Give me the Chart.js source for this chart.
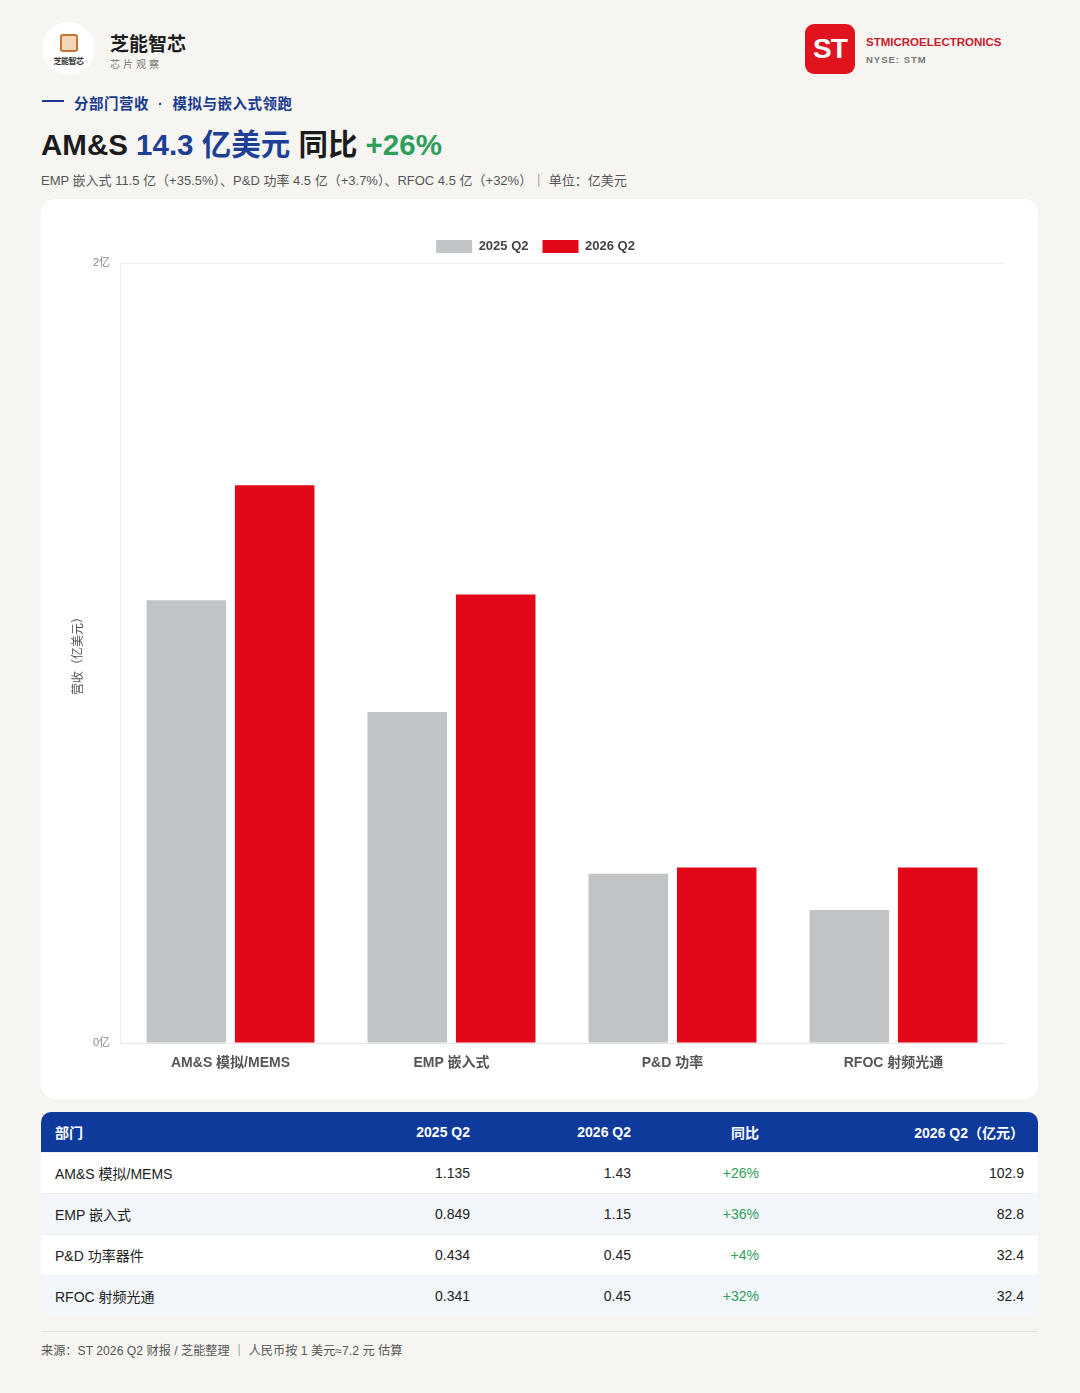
<!DOCTYPE html>
<html lang="zh-CN">
<head>
<meta charset="utf-8">
<title>ST 分部门营收</title>
<script src="https://cdn.jsdelivr.net/npm/chart.js@4.4.1/dist/chart.umd.min.js"></script>
<style>
  html, body { margin: 0; padding: 0; }
  body {
    width: 1080px; height: 1393px; position: relative; overflow: hidden;
    background: #f6f5f2;
    font-family: "Liberation Sans", "Noto Sans CJK SC", sans-serif;
    color: #1b1b1b;
  }
  .abs { position: absolute; }
  .logo {
    left: 42px; top: 22px; width: 53px; height: 53px; border-radius: 50%;
    background: #fff; text-align: center;
  }
  .logo .chip {
    width: 14px; height: 14px; margin: 12px auto 0; border: 2px solid #c8732f;
    border-radius: 3px; background: #f4d7b9;
  }
  .logo .txt { font-size: 8px; font-weight: bold; color: #333; margin-top: 3px; letter-spacing: -0.5px; }
  .brand { left: 110px; top: 29px; font-size: 19px; font-weight: bold; color: #1d1d1d; }
  .brand-sub { left: 110px; top: 56px; font-size: 10px; color: #777; letter-spacing: 3px; }
  .st {
    left: 805px; top: 24px; width: 50px; height: 50px; border-radius: 9px;
    background: #e0131f; color: #fff; font-weight: bold; font-size: 28px;
    line-height: 50px; text-align: center; letter-spacing: -1px;
  }
  .st-name { left: 866px; top: 36px; font-size: 11.5px; font-weight: bold; color: #c8202c; }
  .st-sub { left: 866px; top: 54px; font-size: 9.5px; font-weight: bold; color: #777; letter-spacing: 1px; }
  .kicker-line { left: 42px; top: 100px; width: 22px; height: 2px; background: #1a3a8f; }
  .kicker { left: 74px; top: 92px; font-size: 14.5px; font-weight: bold; color: #1a3a8f; white-space: pre; letter-spacing: 0.5px; }
  .title { left: 41px; top: 121px; font-size: 29.5px; font-weight: bold; color: #1b1b1b; white-space: nowrap; }
  .title .blue { color: #1d3f96; }
  .title .green { color: #2e9e5b; }
  .subtitle { left: 41px; top: 170px; font-size: 13px; color: #555; white-space: nowrap; }
  .card {
    left: 41px; top: 199px; width: 997px; height: 900px; background: #fff; border-radius: 14px;
  }
  .card canvas { position: absolute; left: 0; top: 0; }
  table.data {
    position: absolute; left: 41px; top: 1112px; width: 997px; border-collapse: separate;
    border-spacing: 0; font-size: 14px; background: #fff; border-radius: 10px; overflow: hidden;
  }
  table.data th {
    background: #0d3a9b; color: #fff; font-weight: bold; height: 40px; padding: 0 14px;
  }
  table.data td { height: 40px; padding: 0 14px; color: #222; border-top: 1px solid #eef0f4; }
  table.data tr:nth-child(even) td { background: #f3f6fb; }
  table.data .l { text-align: left; }
  table.data .r { text-align: right; }
  table.data td.g { color: #2e9e5b; }
  .foot-line { left: 41px; top: 1331px; width: 997px; height: 1px; background: #e2e1dd; }
  .foot { left: 41px; top: 1341px; font-size: 12.2px; color: #555; white-space: nowrap; }
</style>
</head>
<body>

<div class="abs logo"><div class="chip"></div><div class="txt">芝能智芯</div></div>
<div class="abs brand">芝能智芯</div>
<div class="abs brand-sub">芯片观察</div>

<div class="abs st">ST</div>
<div class="abs st-name">STMICROELECTRONICS</div>
<div class="abs st-sub">NYSE: STM</div>

<div class="abs kicker-line"></div>
<div class="abs kicker">分部门营收  ·  模拟与嵌入式领跑</div>
<div class="abs title">AM&amp;S <span class="blue">14.3 亿美元</span> 同比 <span class="green">+26%</span></div>
<div class="abs subtitle">EMP 嵌入式 11.5 亿（+35.5%）、P&amp;D 功率 4.5 亿（+3.7%）、RFOC 4.5 亿（+32%）｜ 单位：亿美元</div>

<div class="abs card"><canvas id="chart" width="997" height="900"></canvas></div>

<table class="data">
  <thead>
    <tr>
      <th class="l" style="width:237px">部门</th>
      <th class="r" style="width:150px">2025 Q2</th>
      <th class="r" style="width:133px">2026 Q2</th>
      <th class="r" style="width:100px">同比</th>
      <th class="r">2026 Q2（亿元）</th>
    </tr>
  </thead>
  <tbody id="tbody"></tbody>
</table>

<div class="abs foot-line"></div>
<div class="abs foot">来源：ST 2026 Q2 财报 / 芝能整理 ｜ 人民币按 1 美元≈7.2 元 估算</div>

<script>
// --------------------------
// 数据
// --------------------------
const categories = ['AM&S 模拟/MEMS', 'EMP 嵌入式', 'P&D 功率', 'RFOC 射频光通'];
const tableNames = ['AM&S 模拟/MEMS', 'EMP 嵌入式', 'P&D 功率器件', 'RFOC 射频光通'];
const q2025 = [1.135, 0.849, 0.434, 0.341];
const q2026 = [1.43, 1.15, 0.45, 0.45];
const yoyLabels = ['+26%', '+36%', '+4%', '+32%'];
const rmb2026 = ['102.9', '82.8', '32.4', '32.4'];
const yTicks = [0, 2];

// 表格
const tbody = document.getElementById('tbody');
tableNames.forEach((name, i) => {
  const tr = document.createElement('tr');
  tr.innerHTML =
    `<td class="l">${name}</td>` +
    `<td class="r">${q2025[i]}</td>` +
    `<td class="r">${q2026[i]}</td>` +
    `<td class="r g">${yoyLabels[i]}</td>` +
    `<td class="r">${rmb2026[i]}</td>`;
  tbody.appendChild(tr);
});

// 图表
const font = '"Liberation Sans", "Noto Sans CJK SC", sans-serif';
const ctx = document.getElementById('chart').getContext('2d');
new Chart(ctx, {
  type: 'bar',
  data: {
    labels: categories,
    datasets: [
      { label: '2025 Q2', data: q2025, backgroundColor: '#c0c4c6' },
      { label: '2026 Q2', data: q2026, backgroundColor: '#e3071a' }
    ]
  },
  options: {
    responsive: false,
    animation: false,
    layout: { padding: { top: 27, right: 34, bottom: 0, left: 26 } },
    plugins: {
      legend: {
        position: 'top',
        labels: {
          boxWidth: 36, boxHeight: 13, padding: 14,
          color: '#444', font: { family: font, size: 13, weight: 'bold' }
        }
      },
      tooltip: { enabled: false }
    },
    scales: {
      x: {
        grid: { display: false },
        border: { color: '#e6e6e6' },
        ticks: { color: '#555', padding: 4, font: { family: font, size: 14, weight: 'bold' } },
        afterFit: s => { s.height = 56; }
      },
      y: {
        min: 0, max: 2,
        afterBuildTicks: s => { s.ticks = yTicks.map(v => ({ value: v })); },
        grid: { color: '#efefef', drawTicks: false },
        border: { color: '#ececec' },
        ticks: { color: '#888', padding: 10, font: { family: font, size: 11 }, callback: v => v + '亿' },
        title: { display: true, text: '营收（亿美元）', color: '#555', font: { family: font, size: 12 } },
        afterFit: s => { s.width = 53; }
      }
    }
  }
});
</script>
</body>
</html>
